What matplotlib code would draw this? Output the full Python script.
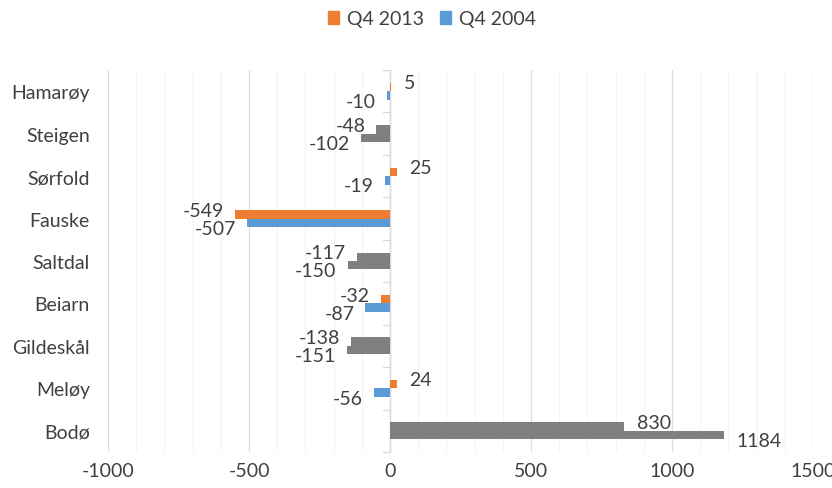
import matplotlib
matplotlib.use("Agg")
import matplotlib.pyplot as plt
from matplotlib.ticker import MultipleLocator
from matplotlib.patches import Patch
import numpy as np

# Municipalities, top to bottom
municipalities = ["Hamarøy", "Steigen", "Sørfold", "Fauske", "Saltdal",
                  "Beiarn", "Gildeskål", "Meløy", "Bodø"]
q4_2013 = [5, -48, 25, -549, -117, -32, -138, 24, 830]
q4_2004 = [-10, -102, -19, -507, -150, -87, -151, -56, 1184]
# Rows drawn in neutral grey instead of the series colours
grey_rows = ["Steigen", "Saltdal", "Gildeskål", "Bodø"]

x_ticks = [-1000, -500, 0, 500, 1000, 1500]

ORANGE = "#ED7D31"
BLUE = "#5B9BD5"
GREY = "#7F7F7F"
TEXT = "#404040"
FS = 14

plt.rcParams["font.family"] = ["Lato", "DejaVu Sans"]

fig = plt.figure(figsize=(8.32, 4.89), dpi=100)
ax = fig.add_axes([108 / 832, 1 - 453 / 489, (813 - 108) / 832, (453 - 71) / 489])

y = np.arange(len(municipalities))
h = 0.2
c13 = [GREY if m in grey_rows else ORANGE for m in municipalities]
c04 = [GREY if m in grey_rows else BLUE for m in municipalities]
bars13 = ax.barh(y - h / 2, q4_2013, height=h, color=c13, zorder=3)
bars04 = ax.barh(y + h / 2, q4_2004, height=h, color=c04, zorder=3)

# Value labels at the bar ends
for bars, vals, dy in ((bars13, q4_2013, 3), (bars04, q4_2004, -4)):
    for b, v in zip(bars, vals):
        yc = b.get_y() + b.get_height() / 2
        dx = 9 if v >= 0 else -8
        ax.annotate(f"{v}", xy=(v, yc), xytext=(dx, dy), textcoords="offset points",
                    ha="left" if v >= 0 else "right", va="center",
                    fontsize=FS, color=TEXT, zorder=4)

ax.set_xlim(-1000, 1500)
ax.set_ylim(len(municipalities) - 0.5, -0.5)
ax.set_xticks(x_ticks)
ax.set_xticklabels([str(t) for t in x_ticks])
ax.xaxis.set_minor_locator(MultipleLocator(100))
ax.grid(axis="x", which="major", color="#dedede", linewidth=0.9, zorder=0)
ax.grid(axis="x", which="minor", color="#f3f3f3", linewidth=0.8, zorder=0)
ax.set_yticks(y)
ax.set_yticklabels(municipalities)
ax.tick_params(axis="y", length=0, pad=13, labelsize=FS, labelcolor=TEXT)
ax.tick_params(axis="x", which="both", length=0, pad=7, labelsize=FS, labelcolor=TEXT)
for s in ax.spines.values():
    s.set_visible(False)

# Category axis running along zero, with short tick marks between rows
ax.axvline(0, color="#d9d9d9", linewidth=0.9, zorder=2)
for yb in np.arange(-0.5, len(municipalities), 1.0):
    ax.plot([-25, 0], [yb, yb], color="#d9d9d9", linewidth=0.9, zorder=2, clip_on=False)

handles = [Patch(color=ORANGE, label="Q4 2013"), Patch(color=BLUE, label="Q4 2004")]
fig.legend(handles=handles, loc="center", bbox_to_anchor=(432 / 832, 1 - 20 / 489),
           ncol=2, frameon=False, fontsize=FS, handlelength=0.6, handleheight=0.6,
           handletextpad=0.4, columnspacing=0.8, labelcolor=TEXT)

fig.savefig("out.png", dpi=100)
